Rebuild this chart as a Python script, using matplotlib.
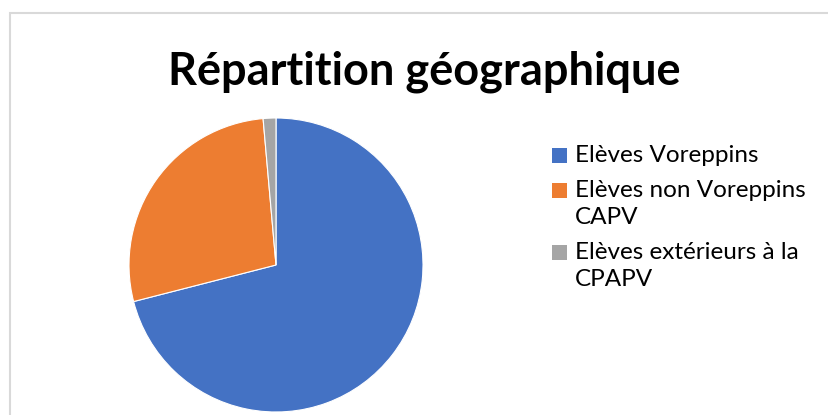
import matplotlib
matplotlib.use("Agg")
import matplotlib.pyplot as plt
from matplotlib.patches import Rectangle

title = "Répartition géographique"
categories = ["Elèves Voreppins", "Elèves non Voreppins\nCAPV", "Elèves extérieurs à la\nCPAPV"]
values = [71.0, 27.6, 1.4]
colors = ["#4472C4", "#ED7D31", "#A5A5A5"]

W, H = 829, 415
fig = plt.figure(figsize=(W / 100, H / 100), dpi=100)
fig.patch.set_facecolor("white")

# chart frame (cropped at right and bottom)
fig.patches.append(Rectangle((10.5 / W, -0.1), 1.0, (H - 13.5) / H + 0.1,
                             transform=fig.transFigure, fill=False,
                             edgecolor="#D9D9D9", linewidth=1.5, zorder=0))

cx, cy, r = 276, 415 - 265, 147
ax = fig.add_axes([(cx - r) / W, (cy - r) / H, 2 * r / W, 2 * r / H])
ax.pie(values, colors=colors, startangle=90, counterclock=False,
       wedgeprops=dict(edgecolor="white", linewidth=0.8))
ax.set_xlim(-1, 1)
ax.set_ylim(-1, 1)
ax.set_aspect("equal")
ax.axis("off")

fig.text(424 / W, 1 - 72 / H, title, ha="center", va="center",
         fontsize=32.5, fontweight="bold", family="Lato", color="black")

# legend
tops = [148, 183, 245]
for lab, col, t in zip(categories, colors, tops):
    fig.patches.append(Rectangle((552 / W, 1 - (t + 15) / H), 15 / W, 15 / H,
                                 transform=fig.transFigure, facecolor=col,
                                 edgecolor="none"))
    fig.text(575 / W, 1 - (t - 3) / H, lab, ha="left", va="top",
             fontsize=17.5, family="Lato", color="black", linespacing=1.36)

fig.savefig("out.png", dpi=100)
